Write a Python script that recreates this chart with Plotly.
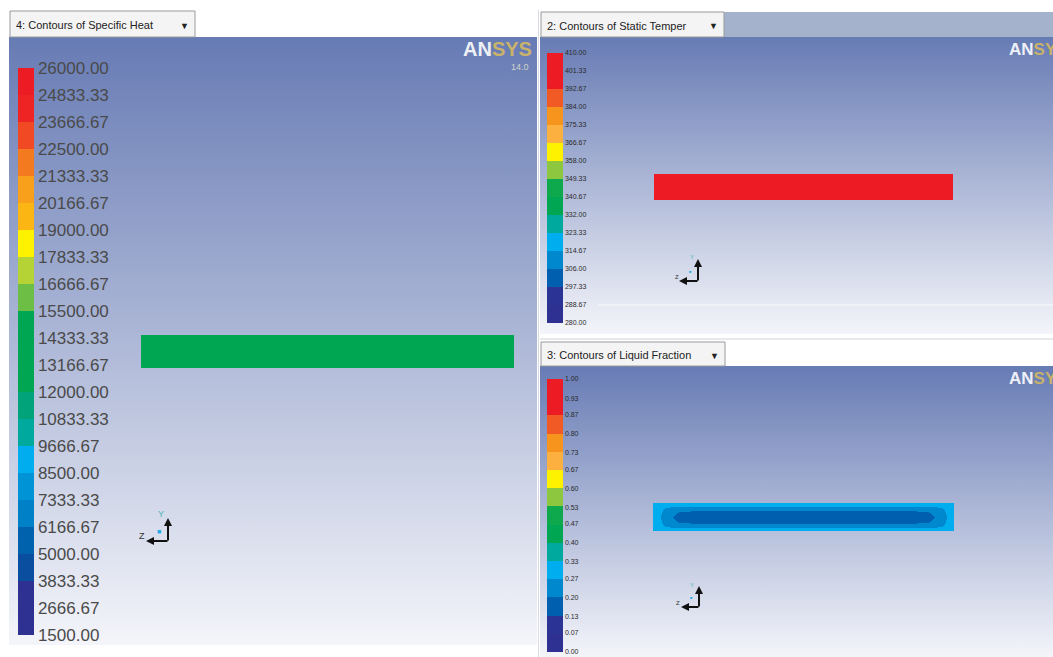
import plotly.graph_objects as go

W, H = 1053, 657

# ---------------- data ----------------
cp_ticks = [26000.00, 24833.33, 23666.67, 22500.00, 21333.33, 20166.67, 19000.00,
            17833.33, 16666.67, 15500.00, 14333.33, 13166.67, 12000.00, 10833.33,
            9666.67, 8500.00, 7333.33, 6166.67, 5000.00, 3833.33, 2666.67, 1500.00]
temp_ticks = [410.00, 401.33, 392.67, 384.00, 375.33, 366.67, 358.00, 349.33,
              340.67, 332.00, 323.33, 314.67, 306.00, 297.33, 288.67, 280.00]
lf_ticks = [1.00, 0.93, 0.87, 0.80, 0.73, 0.67, 0.60, 0.53,
            0.47, 0.40, 0.33, 0.27, 0.20, 0.13, 0.07, 0.00]

cp_field = [[13750.0]]          # specific heat in the slab (green band)
temp_field = [[405.0]]          # static temperature in the slab (red band)
lf_field = [                    # liquid fraction in the slab (rows top -> bottom)
    [0.30, 0.30, 0.30, 0.30, 0.30, 0.30, 0.30, 0.30, 0.30],
    [0.30, 0.28, 0.25, 0.24, 0.235, 0.24, 0.25, 0.28, 0.30],
    [0.30, 0.27, 0.215, 0.18, 0.17, 0.18, 0.215, 0.27, 0.30],
    [0.30, 0.26, 0.20, 0.15, 0.14, 0.15, 0.20, 0.26, 0.30],
    [0.30, 0.27, 0.215, 0.18, 0.17, 0.18, 0.215, 0.27, 0.30],
    [0.30, 0.28, 0.25, 0.24, 0.235, 0.24, 0.25, 0.28, 0.30],
    [0.30, 0.30, 0.30, 0.30, 0.30, 0.30, 0.30, 0.30, 0.30],
]

panel_titles = ["4: Contours of Specific Heat", "2: Contours of Static Temper",
                "3: Contours of Liquid Fraction"]

# ANSYS banded colour maps, bottom -> top
bands_21 = ["#2e3192", "#2e3192", "#0a4f9f", "#0062ad", "#0080c6", "#0093d6",
            "#00aeef", "#00a99d", "#00a37a", "#00a651", "#00a651", "#00a651",
            "#6cbe45", "#b5d334", "#fff200", "#fbb614", "#f8a01b", "#f47a20",
            "#f04923", "#ee2424", "#ed1c24"]
bands_15 = ["#2e3192", "#2b3494", "#0060af", "#0088cf", "#00aeef", "#00a99d",
            "#00a651", "#0ea84d", "#8dc63f", "#fff200", "#fbb040", "#f7941d",
            "#f15a24", "#ed1c24", "#ed1c24"]

# ---------------- geometry / style ----------------
BG_TOP, BG_BOT = "#677bb4", "#f4f5fa"
LP = dict(x0=9, x1=537, y0=37, y1=645)
TP = dict(x0=540, x1=1053, y0=37, y1=334)
BP = dict(x0=540, x1=1053, y0=366, y1=657)

L_SLAB = dict(x0=141, x1=514, y0=335, y1=368)
T_SLAB = dict(x0=654, x1=953, y0=174, y1=200)
B_SLAB = dict(x0=653, x1=954, y0=503, y1=531)
lf_col_edges = [0, 0.015, 0.04, 0.09, 0.2, 0.8, 0.91, 0.96, 0.985, 1.0]
lf_row_edges = [0, 0.1, 0.25, 0.4, 0.6, 0.75, 0.9, 1.0]


def banded(colors):
    n = len(colors)
    cs = []
    for i, c in enumerate(colors):
        cs.append([i / n, c])
        cs.append([(i + 1) / n, c])
    return cs


def cbar(x_px, top_px, len_px, ticks, size, family, color):
    return dict(x=x_px / W, xanchor="left", xpad=0, y=1 - top_px / H, yanchor="top",
                ypad=0, len=len_px, lenmode="pixels", thickness=16,
                thicknessmode="pixels", outlinewidth=0, ticks="",
                tickvals=ticks, ticktext=[f"{v:.2f}" for v in ticks],
                tickfont=dict(size=size, color=color, family=family),
                bgcolor="rgba(0,0,0,0)", borderwidth=0)


fig = go.Figure()

# background gradients (base subplot)
for p in (LP, TP, BP):
    fig.add_trace(go.Scatter(
        x=[p["x0"], p["x1"], p["x1"], p["x0"], p["x0"]],
        y=[p["y0"], p["y0"], p["y1"], p["y1"], p["y0"]],
        mode="none", fill="toself",
        fillgradient=dict(type="vertical", colorscale=[[0, BG_TOP], [1, BG_BOT]],
                          start=p["y0"], stop=p["y1"]),
        hoverinfo="skip", showlegend=False))

# contour slabs (overlay subplot so they sit above the background)
fig.add_trace(go.Heatmap(z=cp_field, x=[L_SLAB["x0"], L_SLAB["x1"]],
                         y=[L_SLAB["y0"], L_SLAB["y1"]], coloraxis="coloraxis",
                         xaxis="x2", yaxis="y2", hoverinfo="skip"))
fig.add_trace(go.Heatmap(z=temp_field, x=[T_SLAB["x0"], T_SLAB["x1"]],
                         y=[T_SLAB["y0"], T_SLAB["y1"]], coloraxis="coloraxis2",
                         xaxis="x2", yaxis="y2", hoverinfo="skip"))
fig.add_trace(go.Heatmap(
    z=lf_field,
    x=[B_SLAB["x0"] + f * (B_SLAB["x1"] - B_SLAB["x0"]) for f in lf_col_edges],
    y=[B_SLAB["y0"] + f * (B_SLAB["y1"] - B_SLAB["y0"]) for f in lf_row_edges],
    zsmooth="best", coloraxis="coloraxis3", xaxis="x2", yaxis="y2", hoverinfo="skip"))

small_font = "Liberation Sans Narrow, Liberation Sans, Arial"
fig.update_layout(
    width=W, height=H, margin=dict(l=0, r=0, t=0, b=0),
    paper_bgcolor="white", plot_bgcolor="rgba(0,0,0,0)", showlegend=False,
    xaxis=dict(range=[0, W], visible=False, fixedrange=True),
    yaxis=dict(range=[H, 0], visible=False, fixedrange=True),
    xaxis2=dict(range=[0, W], visible=False, overlaying="x", fixedrange=True),
    yaxis2=dict(range=[H, 0], visible=False, overlaying="y", fixedrange=True),
    coloraxis=dict(cmin=min(cp_ticks), cmax=max(cp_ticks), colorscale=banded(bands_21),
                   colorbar=cbar(18, 68, 567, cp_ticks, 17, "Liberation Sans, Arial",
                                 "#4a4a4a")),
    coloraxis2=dict(cmin=min(temp_ticks), cmax=max(temp_ticks), colorscale=banded(bands_15),
                    colorbar=cbar(547, 53, 270, temp_ticks, 7, small_font, "#2a2a2a")),
    coloraxis3=dict(cmin=min(lf_ticks), cmax=max(lf_ticks), colorscale=banded(bands_15),
                    colorbar=cbar(547, 379, 273, lf_ticks, 7, small_font, "#2a2a2a")),
)

shapes = []
annos = []

# title strip right of top-right tab
shapes.append(dict(type="rect", xref="x", yref="y", x0=724, x1=1053, y0=12, y1=37,
                   fillcolor="#a5b2cc", line=dict(width=0), layer="below"))
# thin white line in top-right panel
shapes.append(dict(type="line", xref="x", yref="y", x0=598, x1=1053, y0=305, y1=305,
                   line=dict(color="rgba(255,255,255,0.8)", width=1)))
# separators
shapes.append(dict(type="line", xref="x", yref="y", x0=538.5, x1=538.5, y0=10, y1=657,
                   line=dict(color="#d8dbe3", width=1)))
shapes.append(dict(type="line", xref="x", yref="y", x0=540, x1=1053, y0=339, y1=339,
                   line=dict(color="#d0d3da", width=1)))

# tabs
tabs = [(10, 195, 11, 37), (541, 724, 12, 37), (541, 725, 342, 366)]
for (x0, x1, y0, y1), title in zip(tabs, panel_titles):
    shapes.append(dict(type="rect", xref="x", yref="y", x0=x0, x1=x1, y0=y0, y1=y1,
                       fillcolor="#f4f4f4", line=dict(color="#9a9a9a", width=1)))
    annos.append(dict(x=x0 + 4, y=(y0 + y1) / 2 + 1, xref="x", yref="y", text=title,
                      showarrow=False, xanchor="left", yanchor="middle",
                      font=dict(size=11, color="#222222", family="Liberation Sans, Arial")))
    annos.append(dict(x=x1 - 11, y=(y0 + y1) / 2 + 1, xref="x", yref="y", text="▼",
                      showarrow=False, xanchor="center", yanchor="middle",
                      font=dict(size=9, color="#222222")))

# ANSYS logos
logo = "<b><span style='color:#eef0f6'>AN</span><span style='color:#c9b26a'>SYS</span></b>"
for x, y, sz, vx, vy in [(461, 49, 20, 531, 67), (1007, 49, 17, 1056, 61),
                         (1007, 378, 17, 1056, 390)]:
    annos.append(dict(x=x, y=y, xref="x", yref="y", text=logo, showarrow=False,
                      xanchor="left", yanchor="middle",
                      font=dict(size=sz, family="Liberation Sans, Arial")))
    annos.append(dict(x=vx, y=vy, xref="x", yref="y", text="14.0", showarrow=False,
                      xanchor="right", yanchor="middle",
                      font=dict(size=9, color="#cfd3c8", family="Liberation Sans, Arial")))

# axis triads
for vx, vtop, vbot, hx, hy, yl, zl, dot, fs in [
        (168, 518, 542, 146, 541, (161, 514), (142, 536), (159, 531), 9),
        (698, 259, 282, 679, 281, (692, 257), (677, 277), (690, 271), 6),
        (699, 586, 608, 681, 607, (692, 585), (678, 603), (691, 597), 6)]:
    annos.append(dict(x=vx, y=vtop, ax=vx, ay=vbot, xref="x", yref="y", axref="x",
                      ayref="y", text="", showarrow=True, arrowhead=2, arrowsize=0.8,
                      arrowwidth=2, arrowcolor="#111111"))
    annos.append(dict(x=hx, y=hy, ax=vx + 1, ay=hy, xref="x", yref="y", axref="x",
                      ayref="y", text="", showarrow=True, arrowhead=2, arrowsize=0.8,
                      arrowwidth=2, arrowcolor="#111111"))
    annos.append(dict(x=yl[0], y=yl[1], xref="x", yref="y", text="Y", showarrow=False,
                      font=dict(size=fs, color="#4fb8b8", family="Liberation Sans")))
    annos.append(dict(x=zl[0], y=zl[1], xref="x", yref="y", text="Z", showarrow=False,
                      font=dict(size=fs, color="#333333", family="Liberation Sans")))
    annos.append(dict(x=dot[0], y=dot[1], xref="x", yref="y", text="■", showarrow=False,
                      font=dict(size=fs - 2, color="#22a8e8")))

fig.update_layout(shapes=shapes, annotations=annos)
fig.write_html("out.html",
               config={"displayModeBar": False},
               post_script="document.body.style.margin='0';"
                           "document.body.style.overflow='hidden';")
